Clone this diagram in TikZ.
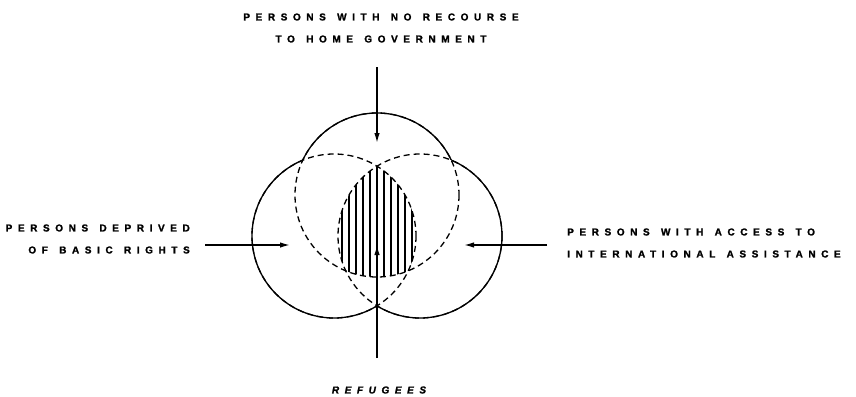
\documentclass[tikz,border=0pt]{standalone}
\usepackage{fontspec}
\setmainfont{Liberation Sans}
\newfontfamily\lblfont[LetterSpace=56,FakeBold=1.4,WordSpace=1.35]{Liberation Sans}
\usetikzlibrary{arrows.meta}
\tikzset{
  lbl/.style={font=\lblfont\bfseries\fontsize{10}{22}\selectfont, inner sep=0pt},
  arr/.style={line width=1.5pt, -{Latex[length=10pt,width=5.5pt]}},
  solidc/.style={line width=1.3pt},
  dashc/.style={line width=1.3pt, dash pattern=on 6pt off 4pt},
  hatch/.style={line width=1.1pt}
}
\begin{document}
\begin{tikzpicture}[x=1pt,y=-1pt]
\useasboundingbox (0,0) rectangle (856,396);
\coordinate (ct) at (377,195);
\coordinate (cl) at (334,236);
\coordinate (cr) at (420,236);
% dashed inner arcs (full circles, solid parts drawn over)
\foreach \c in {ct,cl,cr} \draw[dashc] (\c) circle[radius=82];
% hatching of the triple intersection
\begin{scope}
  \clip (ct) circle[radius=82];
  \clip (cl) circle[radius=82];
  \clip (cr) circle[radius=82];
  \foreach \i in {-5,...,5} \draw[hatch] (377+7*\i,150) -- (377+7*\i,290);
\end{scope}
% solid outer boundary
\begin{scope}[even odd rule]
  \clip (-10,-10) rectangle (866,406) (cl) circle[radius=82];
  \clip (-10,-10) rectangle (866,406) (cr) circle[radius=82];
  \draw[solidc] (ct) circle[radius=82];
\end{scope}
\begin{scope}[even odd rule]
  \clip (-10,-10) rectangle (866,406) (ct) circle[radius=82];
  \clip (-10,-10) rectangle (866,406) (cr) circle[radius=82];
  \draw[solidc] (cl) circle[radius=82];
\end{scope}
\begin{scope}[even odd rule]
  \clip (-10,-10) rectangle (866,406) (ct) circle[radius=82];
  \clip (-10,-10) rectangle (866,406) (cl) circle[radius=82];
  \draw[solidc] (cr) circle[radius=82];
\end{scope}
% labels
\node[lbl, align=center] (ttop) at (381,28) {PERSONS WITH NO RECOURSE\\TO HOME GOVERNMENT};
\node[lbl, align=right, anchor=east] (tleft) at (190,239) {PERSONS DEPRIVED\\OF BASIC RIGHTS};
\node[lbl, align=left, anchor=west] (tright) at (567,243) {PERSONS WITH ACCESS TO\\INTERNATIONAL ASSISTANCE};
\node[lbl, font=\lblfont\bfseries\itshape\fontsize{10}{12}\selectfont] (tbot) at (379,390) {REFUGEES};
% arrows
\coordinate (a1s) at (377,67);  \coordinate (a1e) at (377,143);
\coordinate (a2s) at (205,245); \coordinate (a2e) at (290,245);
\coordinate (a3s) at (547,245); \coordinate (a3e) at (464,245);
\coordinate (a4s) at (377,358); \coordinate (a4e) at (377,245);
\draw[arr] (a1s) -- (a1e);
\draw[arr] (a2s) -- (a2e);
\draw[arr] (a3s) -- (a3e);
\draw[arr] (a4s) -- (a4e);
\end{tikzpicture}
\end{document}
